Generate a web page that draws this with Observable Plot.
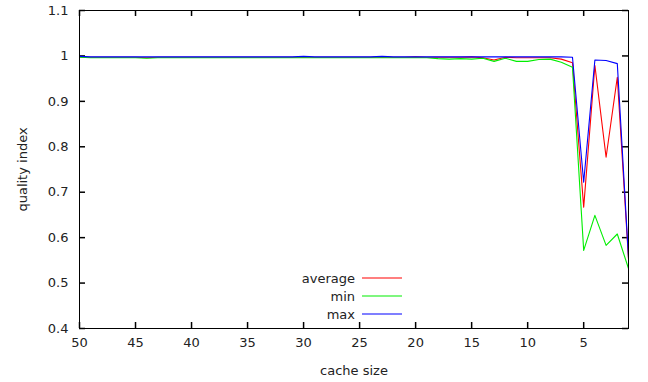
<!DOCTYPE html>
<html>
<head>
<meta charset="utf-8">
<script src="https://cdn.jsdelivr.net/npm/d3@7"></script>
<script src="https://cdn.jsdelivr.net/npm/@observablehq/plot@0.6"></script>
<style>
  html, body { margin: 0; padding: 0; background: #fff; }
  #wrap { position: relative; width: 648px; height: 382px; font-family: "DejaVu Sans", sans-serif; }
  #overlay { position: absolute; left: 0; top: 0; z-index: 5; }
</style>
</head>
<body>
<div id="wrap"></div>
<script>
const cacheSize = [50,49,48,47,46,45,44,43,42,41,40,39,38,37,36,35,34,33,32,31,30,29,28,27,26,25,24,23,22,21,20,19,18,17,16,15,14,13,12,11,10,9,8,7,6,5,4,3,2,1];
const average = [0.998,0.997,0.997,0.997,0.997,0.997,0.996,0.997,0.997,0.997,0.997,0.997,0.997,0.997,0.997,0.997,0.997,0.997,0.997,0.997,0.997,0.997,0.997,0.997,0.997,0.997,0.997,0.998,0.997,0.997,0.998,0.997,0.997,0.997,0.997,0.998,0.996,0.991,0.997,0.996,0.996,0.996,0.996,0.993,0.985,0.667,0.979,0.777,0.953,0.553];
const minimum = [0.997,0.996,0.996,0.996,0.996,0.996,0.995,0.996,0.996,0.996,0.996,0.996,0.996,0.996,0.996,0.996,0.996,0.996,0.996,0.996,0.996,0.996,0.996,0.996,0.996,0.996,0.996,0.996,0.996,0.996,0.996,0.996,0.994,0.993,0.994,0.993,0.995,0.988,0.995,0.988,0.988,0.992,0.993,0.986,0.975,0.572,0.649,0.583,0.608,0.532];
const maximum = [0.999,0.998,0.998,0.998,0.998,0.998,0.998,0.998,0.998,0.998,0.998,0.998,0.998,0.998,0.998,0.998,0.998,0.998,0.998,0.998,0.999,0.998,0.998,0.998,0.998,0.998,0.998,0.999,0.998,0.998,0.998,0.998,0.998,0.998,0.998,0.998,0.998,0.998,0.998,0.998,0.998,0.998,0.998,0.998,0.997,0.722,0.991,0.990,0.983,0.556];
const xTicks = [50,45,40,35,30,25,20,15,10,5];
const yTicks = [0.4,0.5,0.6,0.7,0.8,0.9,1,1.1];
const seriesNames = ["average","min","max"];
const seriesColors = ["#ff0000","#00ee00","#0000ff"];

const rows = [];
[average, minimum, maximum].forEach((arr, si) => {
  arr.forEach((v, i) => rows.push({series: seriesNames[si], x: cacheSize[i], y: v}));
});

const W = 648, H = 382, mL = 79, mR = 20, mT = 10, mB = 54, tk = 6;
const ph = H - mT - mB, pw = W - mL - mR;

const chart = Plot.plot({
  width: W, height: H,
  marginLeft: mL, marginRight: mR, marginTop: mT, marginBottom: mB,
  style: {fontFamily: "DejaVu Sans, sans-serif", fontSize: "13px", color: "#222", background: "#fff"},
  x: {domain: [50, 1], ticks: xTicks},
  y: {domain: [0.4, 1.1], ticks: yTicks},
  color: {domain: seriesNames, range: seriesColors},
  marks: [
    Plot.axisX(xTicks, {tickSize: 0, tickPadding: 9, label: "cache size", labelAnchor: "center", labelArrow: "none", labelOffset: 46, tickFormat: d => String(d)}),
    Plot.axisY(yTicks, {tickSize: 0, tickPadding: 11, label: "quality index", labelAnchor: "center", labelArrow: "none", labelOffset: 62, tickFormat: d => String(d)}),
    Plot.ruleX(xTicks, {x: d => d, insetTop: ph - tk, stroke: "black", strokeWidth: 1.5}),
    Plot.ruleX(xTicks, {x: d => d, insetBottom: ph - tk, stroke: "black", strokeWidth: 1.5}),
    Plot.ruleY(yTicks, {y: d => d, insetRight: pw - tk, stroke: "black", strokeWidth: 1.5}),
    Plot.ruleY(yTicks, {y: d => d, insetLeft: pw - tk, stroke: "black", strokeWidth: 1.5}),
    Plot.lineY(rows, {x: "x", y: "y", z: "series", stroke: "series", strokeWidth: 1.1}),
    Plot.frame({stroke: "#000", strokeWidth: 1})
  ]
});

const wrap = document.getElementById("wrap");
wrap.appendChild(chart);

const ns = "http://www.w3.org/2000/svg";
const ov = document.createElementNS(ns, "svg");
ov.setAttribute("id", "overlay");
ov.setAttribute("width", W);
ov.setAttribute("height", H);
seriesNames.forEach((name, i) => {
  const yy = 278 + i * 18;
  const t = document.createElementNS(ns, "text");
  t.setAttribute("x", 355);
  t.setAttribute("y", yy);
  t.setAttribute("dy", "0.35em");
  t.setAttribute("text-anchor", "end");
  t.setAttribute("font-family", "DejaVu Sans, sans-serif");
  t.setAttribute("font-size", "13");
  t.setAttribute("fill", "#222");
  t.textContent = name;
  ov.appendChild(t);
  const l = document.createElementNS(ns, "line");
  l.setAttribute("x1", 362); l.setAttribute("x2", 402);
  l.setAttribute("y1", yy); l.setAttribute("y2", yy);
  l.setAttribute("stroke", seriesColors[i]);
  l.setAttribute("stroke-width", 1.1);
  ov.appendChild(l);
});
wrap.appendChild(ov);
</script>
</body>
</html>
